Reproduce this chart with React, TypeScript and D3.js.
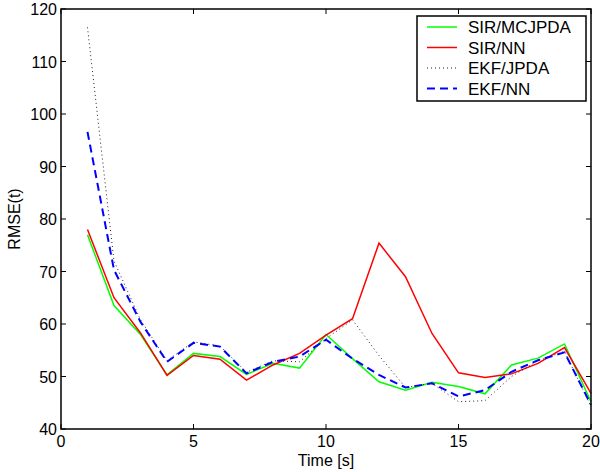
import React from "react";
import * as d3 from "d3";

const times = [1, 2, 3, 4, 5, 6, 7, 8, 9, 10, 11, 12, 13, 14, 15, 16, 17, 18, 19, 20];
const sirMcjpda = [77, 63.5, 58, 50.3, 54.4, 53.8, 50.4, 52.5, 51.6, 58, 53.4, 49, 47.4, 48.9, 48.1, 46.7, 52.2, 53.5, 56.2, 45.2];
const sirNn = [78, 65, 58.3, 50.2, 54, 53.3, 49.3, 52.2, 54.4, 57.9, 61, 75.4, 69, 58.2, 50.7, 49.8, 50.5, 52.5, 55.5, 46.8];
const ekfJpda = [116.5, 72, 60.8, 53, 56.6, 55.8, 50.8, 53, 52.8, 57.2, 60.8, 54, 47.9, 48.7, 45.2, 45.4, 50, 53, 54.8, 44.3];
const ekfNn = [96.6, 70.3, 60.4, 52.8, 56.4, 55.7, 50.6, 52.8, 53.8, 57, 53.4, 50.3, 47.9, 48.7, 46.2, 47.4, 50.9, 53.1, 54.6, 44.6];
const xTicks = [0, 5, 10, 15, 20];
const yTicks = [40, 50, 60, 70, 80, 90, 100, 110, 120];

const series = [
  { name: "SIR/MCJPDA", values: sirMcjpda, color: "#00ff00", dash: "none", width: 1.5 },
  { name: "SIR/NN", values: sirNn, color: "#ff0000", dash: "none", width: 1.5 },
  { name: "EKF/JPDA", values: ekfJpda, color: "#222", dash: "1,3", width: 1 },
  { name: "EKF/NN", values: ekfNn, color: "#0000ff", dash: "8,5", width: 2 },
];

const font = "'Liberation Sans', Arial, sans-serif";

export default function App() {
  const left = 61, right = 591, top = 9, bottom = 429;
  const x = d3.scaleLinear().domain([0, 20]).range([left, right]);
  const y = d3.scaleLinear().domain([40, 120]).range([bottom, top]);
  const line = d3
    .line<number>()
    .x((_, i) => x(times[i]))
    .y(v => y(v));

  return (
    <svg width={600} height={472} style={{ position: "absolute", left: 0, top: 0, background: "#fff" }}>
      <rect x={0} y={0} width={600} height={472} fill="#fff" />
      {/* ticks on all four sides, pointing inward */}
      {xTicks.map(t => (
        <g key={"x" + t}>
          <line x1={x(t)} x2={x(t)} y1={bottom} y2={bottom - 5} stroke="#000" />
          <line x1={x(t)} x2={x(t)} y1={top} y2={top + 5} stroke="#000" />
          <text x={x(t)} y={bottom + 18} textAnchor="middle" fontSize={16} fontFamily={font}>
            {t}
          </text>
        </g>
      ))}
      {yTicks.map(t => (
        <g key={"y" + t}>
          <line x1={left} x2={left + 5} y1={y(t)} y2={y(t)} stroke="#000" />
          <line x1={right} x2={right - 5} y1={y(t)} y2={y(t)} stroke="#000" />
          <text x={left - 4} y={y(t) + 6} textAnchor="end" fontSize={16} fontFamily={font}>
            {t}
          </text>
        </g>
      ))}
      {series.map(s => (
        <path
          key={s.name}
          d={line(s.values) || ""}
          fill="none"
          stroke={s.color}
          strokeWidth={s.width}
          strokeDasharray={s.dash}
        />
      ))}
      <rect x={left} y={top} width={right - left} height={bottom - top} fill="none" stroke="#000" strokeWidth={1.5} />
      <text x={x(10)} y={466} textAnchor="middle" fontSize={16} fontFamily={font}>
        Time [s]
      </text>
      <text
        transform={`translate(20,${(top + bottom) / 2}) rotate(-90)`}
        textAnchor="middle"
        fontSize={16}
        fontFamily={font}
      >
        RMSE(t)
      </text>
      {/* legend */}
      <g>
        <rect x={417} y={16} width={169} height={85} fill="#fff" stroke="#000" strokeWidth={1.5} />
        {series.map((s, i) => {
          const ly = 27 + i * 20.5;
          return (
            <g key={"l" + s.name}>
              <line x1={427} x2={457} y1={ly} y2={ly} stroke={s.color} strokeWidth={s.width} strokeDasharray={s.dash} />
              <text x={468} y={ly + 6} fontSize={17} fontFamily={font}>
                {s.name}
              </text>
            </g>
          );
        })}
      </g>
    </svg>
  );
}
